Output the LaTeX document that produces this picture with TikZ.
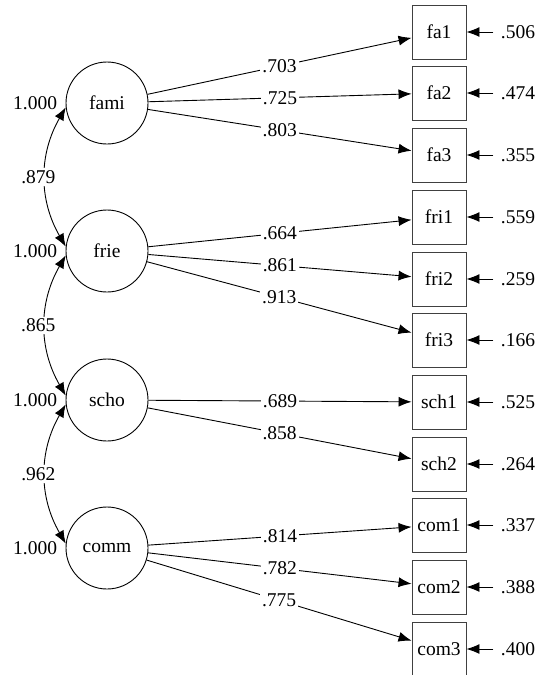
\documentclass[tikz,border=0pt]{standalone}
\usepackage{fontspec}
\setmainfont{Liberation Serif}
\usetikzlibrary{arrows.meta,positioning}

\begin{document}
\begin{tikzpicture}[
            > = {Latex[length=13pt,width=10pt]}, % arrow head style
            x = 1pt, y = -1pt, % pixel-like units, y going down
            font = \fontsize{19.5}{23}\selectfont,
            line width = 0.9pt % line style
        ]

        \tikzstyle{latent}=[
            circle,
            draw = black,
            minimum size = 82pt,
            inner sep = 0pt
        ]
        \tikzstyle{item}=[
            rectangle,
            draw = black!75,
            minimum size = 54pt,
            inner sep = 0pt
        ]
        \tikzstyle{coef}=[fill = white, inner sep = 2pt]
        \tikzstyle{err}=[inner xsep = 7pt, inner ysep = 2pt]
        \tikzstyle{fix}=[inner sep = 1pt]

        \useasboundingbox (0,0) rectangle (536,675);

        % latent factors
        \node[latent] (fami) at (107,103) {fami};
        \node[latent] (frie) at (107,251) {frie};
        \node[latent] (scho) at (107,400) {scho};
        \node[latent] (comm) at (107,548) {comm};

        % fixed variances
        \node[fix] (vfami) [left=7pt of fami] {1.000};
        \node[fix] (vfrie) [left=7pt of frie] {1.000};
        \node[fix] (vscho) [left=7pt of scho] {1.000};
        \node[fix] (vcomm) [left=7pt of comm] {1.000};

        % indicators
        \node[item] (fa1) at (439,32) {fa1};
        \node[item] (fa2) at (439,93) {fa2};
        \node[item] (fa3) at (439,155) {fa3};
        \node[item] (fri1) at (439,217) {fri1};
        \node[item] (fri2) at (439,279) {fri2};
        \node[item] (fri3) at (439,340) {fri3};
        \node[item] (sch1) at (439,402) {sch1};
        \node[item] (sch2) at (439,464) {sch2};
        \node[item] (com1) at (439,525) {com1};
        \node[item] (com2) at (439,587) {com2};
        \node[item] (com3) at (439,649) {com3};

        % residual variances
        \node[err] (efa1) [right=27pt of fa1] {.506};
        \node[err] (efa2) [right=27pt of fa2] {.474};
        \node[err] (efa3) [right=27pt of fa3] {.355};
        \node[err] (efri1) [right=27pt of fri1] {.559};
        \node[err] (efri2) [right=27pt of fri2] {.259};
        \node[err] (efri3) [right=27pt of fri3] {.166};
        \node[err] (esch1) [right=27pt of sch1] {.525};
        \node[err] (esch2) [right=27pt of sch2] {.264};
        \node[err] (ecom1) [right=27pt of com1] {.337};
        \node[err] (ecom2) [right=27pt of com2] {.388};
        \node[err] (ecom3) [right=27pt of com3] {.400};

        % loadings
        \draw[->] (fami) -- node[coef] {.703} (fa1);
        \draw[->] (fami) -- node[coef] {.725} (fa2);
        \draw[->] (fami) -- node[coef] {.803} (fa3);
        \draw[->] (frie) -- node[coef] {.664} (fri1);
        \draw[->] (frie) -- node[coef] {.861} (fri2);
        \draw[->] (frie) -- node[coef] {.913} (fri3);
        \draw[->] (scho) -- node[coef] {.689} (sch1);
        \draw[->] (scho) -- node[coef] {.858} (sch2);
        \draw[->] (comm) -- node[coef] {.814} (com1);
        \draw[->] (comm) -- node[coef] {.782} (com2);
        \draw[->] (comm) -- node[coef] {.775} (com3);

        \draw[->] (efa1) -- (fa1);
        \draw[->] (efa2) -- (fa2);
        \draw[->] (efa3) -- (fa3);
        \draw[->] (efri1) -- (fri1);
        \draw[->] (efri2) -- (fri2);
        \draw[->] (efri3) -- (fri3);
        \draw[->] (esch1) -- (sch1);
        \draw[->] (esch2) -- (sch2);
        \draw[->] (ecom1) -- (com1);
        \draw[->] (ecom2) -- (com2);
        \draw[->] (ecom3) -- (com3);

        % correlations
        \draw[<->] (fami.186) to[bend right=30] node[coef, xshift=-7pt] {.879} (frie.174);
        \draw[<->] (frie.186) to[bend right=30] node[coef, xshift=-7pt] {.865} (scho.174);
        \draw[<->] (scho.186) to[bend right=30] node[coef, xshift=-7pt] {.962} (comm.174);

    \end{tikzpicture}
\end{document}
